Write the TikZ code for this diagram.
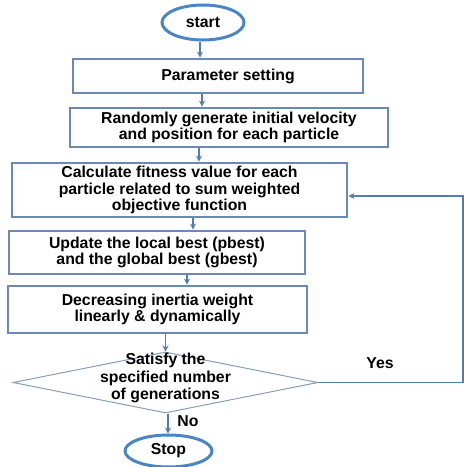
\documentclass[tikz,border=0pt]{standalone}
\usepackage{fontspec}
\setmainfont{Liberation Sans}
\usetikzlibrary{shapes.geometric,arrows.meta}
\definecolor{boxblue}{HTML}{6A89B8}
\definecolor{ellblue}{HTML}{4A86C6}
\definecolor{arrblue}{HTML}{4F7CB8}
\definecolor{diagray}{HTML}{8A9CBA}
\tikzset{
  every node/.style={font=\fontsize{15.8}{16.5}\selectfont\bfseries, align=center, inner sep=0pt},
  procbox/.style={draw=boxblue, line width=2.8pt, rectangle},
  term/.style={draw=ellblue, line width=3pt, ellipse},
  decbox/.style={draw=diagray, line width=1pt, diamond},
  arr/.style={draw=arrblue, line width=1.3pt, -{Stealth[length=6pt,width=6pt]}},
  looparr/.style={draw=arrblue!90!gray, line width=1.3pt, -{Stealth[length=6pt,width=6pt]}},
  lbl/.style={font=\fontsize{15.8}{16.5}\selectfont\bfseries}
}
\begin{document}
\begin{tikzpicture}[x=1pt,y=-1pt]
\useasboundingbox (0,0) rectangle (464,467);
\node[term, minimum width=82, minimum height=35] (start) at (203,22.5) {start};
\node[procbox, minimum width=290, minimum height=34] (param) at (218,76) {\hspace*{20pt}Parameter setting};
\node[procbox, minimum width=318, minimum height=39] (rand) at (229,127.5) {Randomly generate initial velocity\\and position for each particle};
\node[procbox, minimum width=335, minimum height=54] (calc) at (179.5,190) {Calculate fitness value for each\\particle related to sum weighted\\objective function};
\node[procbox, minimum width=296, minimum height=43] (upd) at (157,252.5) {Update the local best (pbest)\\and the global best (gbest)};
\node[procbox, minimum width=299, minimum height=47] (dec) at (157.5,309.5) {Decreasing inertia weight\\linearly \& dynamically};
\node[decbox, minimum width=305, minimum height=61, aspect=5] (dia) at (165.5,382.5) {\smash{\begin{tabular}{@{}c@{}}Satisfy the\\[1pt]specified number\\[1pt]of generations\end{tabular}}};
\node[term, minimum width=87, minimum height=32] (stop) at (168.5,451) {Stop};
\node[lbl] (yes) at (380,363) {Yes};
\node[lbl] (no) at (188,421) {No};
\draw[arr] (start.south -| 200,0) -- (param.north -| 200,0);
\draw[arr] (param.south -| 202,0) -- (rand.north -| 202,0);
\draw[arr] (rand.south -| 199,0) -- (calc.north -| 199,0);
\draw[arr] (calc.south -| 193,0) -- (upd.north -| 193,0);
\draw[arr] (upd.south -| 187,0) -- (dec.north -| 187,0);
\draw[arr] (dec.south -| 165.5,0) -- (dia.north);
\draw[arr] (dia.south -| 168,0) -- (stop.north -| 168,0);
\coordinate (cr) at (463,0);
\draw[looparr] (dia.east) -- (cr |- dia.east) |- (calc.east |- 0,196);
\end{tikzpicture}
\end{document}
